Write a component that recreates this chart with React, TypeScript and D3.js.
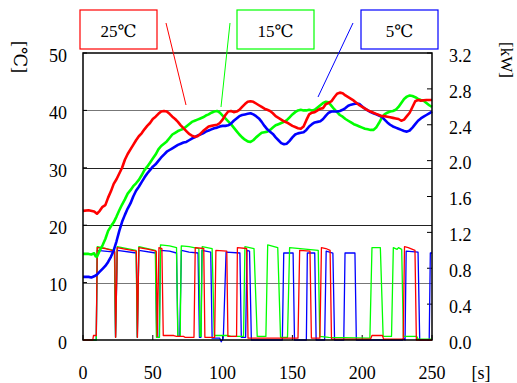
import React from 'react';
import * as d3 from 'd3';

const timeTicks = [0, 50, 100, 150, 200, 250];
const tempTicks = [0, 10, 20, 30, 40, 50];
const powerTicks = [0, 0.4, 0.8, 1.2, 1.6, 2.0, 2.4, 2.8, 3.2];
const gridTemps = [10, 20, 30, 40];
const seriesNames = ['25℃', '15℃', '5℃'];
const seriesColors = ['#ff0000', '#00ff00', '#0000ff'];

type P = [number, number];

// Temperature [s, °C]
const temp25: P[] = [
  [0, 22.5], [4, 22.6], [8, 22.4], [10, 22.0], [12, 22.5], [14, 23.2], [16, 23.5], [18, 24.8], [20, 25.9], [22, 27.2],
  [24, 28.0], [26, 29.0], [28, 30.0], [30, 31.4], [32, 32.4], [34, 33.2], [36, 34.0], [38, 34.8], [40, 35.5], [42, 36.0],
  [44, 36.7], [46, 37.3], [48, 37.8], [50, 38.5], [52, 38.9], [54, 39.4], [56, 39.8], [58, 39.9], [60, 39.8], [62, 39.4],
  [64, 38.9], [66, 38.5], [68, 38.0], [70, 37.4], [72, 36.9], [74, 36.4], [76, 35.9], [78, 35.6], [80, 35.4], [82, 35.5],
  [84, 35.9], [86, 36.4], [88, 36.8], [90, 37.2], [92, 37.3], [94, 37.4], [96, 37.5], [98, 37.8], [100, 38.4], [102, 39.2],
  [104, 39.8], [106, 39.9], [108, 39.7], [110, 39.8], [112, 40.1], [114, 40.6], [116, 41.1], [118, 41.5], [120, 41.6], [122, 41.5],
  [124, 41.2], [126, 40.9], [128, 40.6], [130, 40.3], [132, 40.1], [134, 39.9], [136, 39.5], [138, 39.0], [140, 38.7], [142, 38.4],
  [144, 38.1], [146, 37.9], [148, 37.6], [150, 37.3], [152, 37.1], [154, 36.9], [156, 36.8], [158, 37.2], [160, 38.3], [162, 39.3],
  [164, 39.6], [166, 39.7], [168, 40.0], [170, 40.3], [172, 40.4], [174, 41.1], [176, 41.3], [178, 41.6], [180, 42.3], [182, 42.9],
  [184, 43.1], [186, 43.0], [188, 42.6], [190, 42.3], [192, 42.0], [194, 41.7], [196, 41.3], [198, 40.9], [200, 40.6], [202, 40.3],
  [204, 40.0], [206, 39.8], [208, 39.6], [210, 39.4], [212, 39.2], [214, 39.0], [216, 39.0], [218, 38.9], [220, 38.8], [222, 38.7],
  [224, 38.6], [226, 38.5], [228, 38.2], [230, 38.4], [232, 39.0], [234, 39.6], [236, 40.6], [238, 41.6], [240, 41.8], [242, 41.7],
  [246, 41.8], [250, 41.8],
];

const temp15: P[] = [
  [0, 15.0], [4, 15.0], [6, 14.9], [8, 15.1], [9, 14.6], [10, 14.5], [12, 15.6], [14, 16.5], [16, 17.6], [18, 19.0],
  [20, 19.8], [22, 20.5], [24, 21.5], [26, 22.6], [28, 23.6], [30, 24.5], [32, 25.5], [34, 26.1], [36, 26.8], [38, 27.3],
  [40, 27.9], [42, 28.7], [44, 29.6], [46, 30.2], [48, 30.9], [50, 31.6], [52, 32.3], [54, 33.2], [56, 33.8], [58, 34.2],
  [60, 34.6], [62, 35.2], [64, 35.8], [66, 36.1], [68, 36.4], [70, 36.6], [72, 36.8], [74, 37.2], [76, 37.6], [78, 38.0],
  [80, 38.2], [82, 38.4], [84, 38.6], [86, 38.8], [88, 39.1], [90, 39.3], [92, 39.6], [94, 39.8], [96, 39.9], [98, 39.6],
  [100, 39.1], [102, 38.6], [104, 38.1], [106, 37.6], [108, 37.0], [110, 36.4], [112, 35.8], [114, 35.3], [116, 34.9], [118, 34.6],
  [120, 34.5], [122, 34.8], [124, 35.3], [126, 35.7], [128, 36.1], [130, 36.2], [132, 36.3], [134, 36.6], [136, 37.0], [138, 37.4],
  [140, 37.6], [142, 37.8], [144, 38.0], [146, 38.3], [148, 38.8], [150, 39.3], [152, 39.7], [154, 40.0], [156, 40.1], [158, 40.0],
  [160, 40.0], [162, 40.1], [164, 40.0], [166, 40.1], [168, 40.5], [170, 40.9], [172, 41.3], [174, 41.5], [176, 41.4], [178, 40.8],
  [180, 40.2], [182, 39.7], [184, 39.2], [186, 38.9], [188, 38.5], [190, 38.2], [192, 37.9], [194, 37.6], [196, 37.4], [198, 37.2],
  [200, 37.0], [202, 36.8], [204, 36.7], [206, 36.6], [208, 36.6], [210, 37.0], [212, 37.8], [214, 38.7], [216, 39.3], [218, 39.6],
  [220, 39.8], [222, 39.9], [224, 40.1], [226, 40.6], [228, 41.3], [230, 42.0], [232, 42.4], [234, 42.6], [236, 42.5], [238, 42.3],
  [240, 42.0], [242, 41.8], [244, 41.7], [246, 41.3], [248, 40.9], [250, 40.6],
];

const temp5: P[] = [
  [0, 11.0], [4, 11.0], [6, 10.9], [8, 11.1], [10, 11.4], [12, 11.9], [14, 12.4], [16, 12.9], [18, 13.6], [20, 14.5],
  [22, 15.6], [24, 17.2], [26, 19.0], [28, 20.6], [30, 21.8], [32, 22.9], [34, 23.8], [36, 25.0], [38, 26.0], [40, 26.7],
  [42, 27.5], [44, 28.3], [46, 29.0], [48, 29.6], [50, 30.2], [52, 30.6], [54, 31.2], [56, 31.8], [58, 32.3], [60, 32.8],
  [62, 33.1], [64, 33.4], [66, 33.7], [68, 34.0], [70, 34.2], [72, 34.4], [74, 34.5], [76, 34.8], [78, 35.1], [80, 35.3],
  [82, 35.6], [84, 35.8], [86, 36.0], [88, 36.3], [90, 36.5], [92, 36.7], [94, 36.9], [96, 37.0], [98, 37.2], [100, 37.3],
  [102, 37.3], [104, 37.4], [106, 37.7], [108, 38.2], [110, 38.6], [112, 39.0], [114, 39.2], [116, 39.3], [118, 39.4], [120, 39.5],
  [122, 39.3], [124, 39.0], [126, 38.6], [128, 38.0], [130, 37.3], [132, 36.7], [134, 36.3], [136, 35.9], [138, 35.3], [140, 34.8],
  [142, 34.3], [144, 34.1], [146, 34.2], [148, 34.7], [150, 35.3], [152, 35.8], [154, 36.0], [156, 36.1], [158, 36.2], [160, 36.6],
  [162, 37.2], [164, 37.6], [166, 37.9], [168, 38.0], [170, 38.1], [172, 38.5], [174, 39.1], [176, 39.6], [178, 39.8], [180, 39.8],
  [182, 39.8], [184, 39.9], [186, 40.1], [188, 40.4], [190, 40.8], [192, 41.0], [194, 41.1], [196, 41.2], [198, 41.1], [200, 40.7],
  [202, 40.3], [204, 40.0], [206, 39.7], [208, 39.5], [210, 39.3], [212, 39.1], [214, 38.9], [216, 38.4], [218, 37.9], [220, 37.5],
  [222, 37.2], [224, 37.0], [226, 36.8], [228, 36.6], [230, 36.4], [232, 36.3], [234, 36.5], [236, 37.0], [238, 37.6], [240, 38.2],
  [242, 38.6], [244, 38.9], [246, 39.2], [248, 39.5], [250, 39.8],
];

// Power [s, kW]
const power25: P[] = [
  [0, 0.0], [7, 0.0], [7.5, 0.05], [9.5, 0.05], [10.2, 1.03], [16, 1.02], [22.7, 0.99], [23.4, 0.03], [24.5, 1.03], [31, 1.01],
  [38.2, 0.99], [39, 0.03], [40, 1.03], [47, 1.01], [52.5, 0.99], [53.2, 0.04], [54.4, 1.03], [56.5, 1.02], [57.5, 0.05], [65, 0.05],
  [67, 0.04], [72, 0.04], [73, 0.03], [79.5, 0.03], [80.4, 1.03], [86.5, 1.02], [87.3, 0.03], [94.3, 0.03], [95.2, 1.0], [103, 0.99],
  [103.8, 0.04], [110, 0.04], [110.6, 1.03], [117.2, 1.02], [118.2, 0.02], [154, 0.02], [155.2, 1.0], [162.6, 0.99], [163.6, 0.02], [169.7, 0.02],
  [170.8, 1.03], [174, 1.02], [177, 1.0], [178, 0.01], [206, 0.01], [207, 0.05], [214.5, 0.05], [215.3, 0.01], [229.4, 0.01], [230.3, 1.04],
  [233, 1.03], [237.8, 1.0], [238.8, 0.0], [250, 0.0],
];

const power15: P[] = [
  [0, 0.0], [9.5, 0.0], [10.2, 1.04], [22.5, 1.0], [23.3, 0.03], [24.5, 1.04], [38, 1.0], [38.9, 0.03], [40, 1.04], [51.8, 1.0],
  [52.6, 0.03], [54.8, 0.03], [55.5, 1.06], [62, 1.05], [67, 1.03], [67.9, 0.04], [69.6, 0.04], [70.4, 1.05], [76, 1.04], [83, 1.02],
  [83.8, 0.04], [84.6, 0.04], [85.4, 1.04], [92.5, 1.02], [94, 0.05], [104, 0.05], [106, 0.04], [115, 0.04], [116, 1.04], [122.5, 1.02],
  [124.8, 0.04], [131, 0.04], [132.3, 1.06], [139.5, 1.03], [141.5, 0.03], [146.5, 0.03], [148, 1.03], [168.5, 1.0], [169.6, 0.04], [176, 0.03],
  [205.5, 0.02], [207, 1.03], [213, 1.03], [215, 0.04], [221, 0.04], [222.3, 1.03], [225, 1.01], [226, 1.03], [228.3, 1.01], [229.5, 0.04],
  [239, 0.04], [240, 0.01], [250, 0.01],
];

const power5: P[] = [
  [0, 0.0], [9.5, 0.0], [10.2, 1.0], [22.6, 0.98], [23.3, 0.03], [24.6, 1.0], [38.2, 0.97], [38.9, 0.03], [40, 1.0], [52, 0.97],
  [52.8, 0.03], [54.6, 0.03], [55.5, 1.0], [62, 0.99], [67, 0.97], [68, 0.04], [69.3, 0.04], [70.5, 1.0], [76, 0.98], [82.4, 0.97],
  [83.4, 0.03], [84.5, 0.03], [85.2, 1.0], [91.5, 0.98], [92.5, 0.02], [98, 0.02], [99, -0.02], [100.5, 0.02], [102.5, 0.98], [112.4, 0.97],
  [113.4, 0.03], [116.5, 0.03], [117.5, 1.0], [119.3, 0.99], [120.6, 0.0], [142.8, 0.0], [143.8, 0.97], [150.5, 0.97], [151.5, 0.0], [160, 0.0],
  [160.7, 0.97], [166, 0.97], [167, 0.0], [173.1, 0.0], [174.2, 0.99], [179, 0.97], [180.2, 0.0], [186.8, 0.0], [187.7, 0.97], [194.8, 0.97],
  [195.8, 0.0], [229, 0.0], [229.5, 0.02], [230.7, 0.0], [231.5, 0.99], [240, 0.98], [241.2, 0.0], [248, 0.0], [248.8, 0.97], [250, 0.97],
];

const W = 517;
const H = 383;
const L = 83, R = 432, T = 53, B = 340;
const FONT = "'Liberation Serif', 'DejaVu Serif', serif";

export default function App() {
  const x = d3.scaleLinear().domain([0, 250]).range([L, R]);
  const yT = d3.scaleLinear().domain([0, 50]).range([B, T]);
  const yP = d3.scaleLinear().domain([0, 3.2]).range([B, T]);

  const lineT = d3.line<P>().x(d => x(d[0])).y(d => yT(d[1]));
  const lineP = d3.line<P>().x(d => x(d[0])).y(d => yP(d[1]));

  const temps = [temp25, temp15, temp5];
  const powers = [power25, power15, power5];

  const legendBoxes = [
    { x: 80, lx1: 166, ly1: 23, lx2: 186, ly2: 105 },
    { x: 237, lx1: 230, ly1: 23, lx2: 221, ly2: 107 },
    { x: 361, lx1: 353, ly1: 23, lx2: 318, ly2: 97 },
  ];

  const ts: React.CSSProperties = { fontFamily: FONT };

  return (
    <svg width={W} height={H} style={{ position: 'absolute', left: 0, top: 0, background: '#fff', fontFamily: FONT }}>
      <rect x={0} y={0} width={W} height={H} fill="#fff" />
      {/* gridlines */}
      {gridTemps.map(v => (
        <line key={'g' + v} x1={L} x2={R} y1={Math.round(yT(v)) + 0.5} y2={Math.round(yT(v)) + 0.5}
          stroke={v === 40 || v === 10 ? '#777' : '#222'} strokeWidth={1} />
      ))}
      {/* left ticks */}
      {tempTicks.map(v => (
        <g key={'lt' + v}>
          <line x1={L} x2={L + 4} y1={yT(v)} y2={yT(v)} stroke="#000" />
          <text x={67} y={yT(v) + 2.5} dy="0.35em" textAnchor="end" fontSize={18} style={ts}>{v}</text>
        </g>
      ))}
      {/* right ticks */}
      {powerTicks.map(v => (
        <g key={'rt' + v}>
          <line x1={R - 5} x2={R} y1={yP(v)} y2={yP(v)} stroke="#000" />
          <text x={449} y={yP(v) + 2.5} dy="0.35em" textAnchor="start" fontSize={18} style={ts}>{v.toFixed(1)}</text>
        </g>
      ))}
      {/* bottom ticks */}
      {timeTicks.map(v => (
        <g key={'bt' + v}>
          <line x1={x(v)} x2={x(v)} y1={B} y2={B - 5} stroke="#000" />
          <text x={x(v)} y={372.5} dy="0.35em" textAnchor="middle" fontSize={18} style={ts}>{v}</text>
        </g>
      ))}
      {/* power lines */}
      {[2, 1, 0].map(i => (
        <path key={'p' + i} d={lineP(powers[i]) || ''} fill="none" stroke={seriesColors[i]}
          strokeWidth={1.3} strokeLinejoin="round" />
      ))}
      {/* temperature lines */}
      {[1, 2, 0].map(i => (
        <path key={'t' + i} d={lineT(temps[i]) || ''} fill="none" stroke={seriesColors[i]}
          strokeWidth={2.6} strokeLinejoin="round" />
      ))}
      {/* frame */}
      <rect x={L} y={T} width={R - L} height={B - T} fill="none" stroke="#000" strokeWidth={1.5} />
      {/* legend boxes */}
      {legendBoxes.map((b, i) => (
        <g key={'lg' + i}>
          <rect x={b.x} y={10} width={77} height={39} fill="#fff" stroke={seriesColors[i]} strokeWidth={1.2} />
          <text x={b.x + 38.5} y={31} dy="0.35em" textAnchor="middle" fontSize={17} style={ts}>{seriesNames[i]}</text>
          <line x1={b.lx1} y1={b.ly1} x2={b.lx2} y2={b.ly2} stroke={seriesColors[i]} strokeWidth={1} />
        </g>
      ))}
      {/* axis titles */}
      <text transform="translate(20,57) rotate(90)" textAnchor="middle" dy="0.35em" fontSize={18} style={ts}>[℃]</text>
      <text transform="translate(507,60) rotate(90)" textAnchor="middle" dy="0.35em" fontSize={17} style={ts}>[kW]</text>
      <text x={481} y={372.5} dy="0.35em" textAnchor="middle" fontSize={18} style={ts}>[s]</text>
    </svg>
  );
}
